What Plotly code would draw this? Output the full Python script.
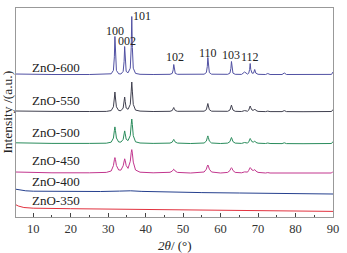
import plotly.graph_objects as go

# 2-theta grid (degrees) shared by the crystalline samples
two_theta = [5, 8, 15, 25, 29.5, 30.8, 31.4, 31.65, 31.8, 31.95, 32.2, 32.8,
             33.4, 34.0, 34.25, 34.4, 34.55, 34.8, 35.3, 35.9, 36.15, 36.3, 36.45, 36.7,
             37.3, 38.5, 42, 46.5, 47.1, 47.35, 47.5, 47.65, 47.9, 48.5, 52, 55.6,
             56.2, 56.45, 56.6, 56.75, 57.0, 57.6, 60, 61.9, 62.5, 62.75, 62.9, 63.05,
             63.3, 63.9, 65.6, 66.4, 67.2, 67.5, 67.75, 67.9, 68.05, 68.4, 68.8, 69.1,
             69.4, 70.0, 72.0, 72.6, 73.2, 76.4, 77.0, 77.6, 82, 88, 89.6, 90]

int_600 = [143, 142.8, 142.5, 142.5, 142.6, 143.2, 146.6, 160.2, 180.5, 160.2, 146.6, 143.2,
           143.0, 145.6, 155.5, 170.5, 155.5, 145.6, 144.2, 148.8, 169.5, 200.5, 169.5, 148.8,
           143.6, 142.7, 142.5, 142.7, 143.6, 147.2, 152.5, 147.2, 143.6, 142.7, 142.5, 142.8,
           144.4, 150.4, 159.5, 150.4, 144.4, 142.8, 142.5, 142.7, 143.9, 148.5, 155.5, 148.5,
           143.9, 142.7, 142.6, 145, 142.9, 143.7, 147.6, 153.5, 147.6, 143.8, 143.9, 147.5,
           143.9, 142.7, 142.5, 143.5, 142.5, 142.5, 144, 142.5, 142.4, 142.4, 142.6, 145]

int_550 = [106, 105.8, 105.6, 105.5, 105.6, 106.4, 110.2, 119, 125, 119, 110.2, 106.5,
           106.3, 109, 115.5, 120, 115.5, 109, 107.7, 112.6, 125.9, 135, 125.9, 112.6,
           106.9, 105.9, 105.5, 105.7, 106.5, 108.3, 109.5, 108.3, 106.5, 105.7, 105.4, 105.8,
           107.3, 111, 113.5, 111, 107.3, 105.8, 105.4, 105.7, 107, 109.9, 111.9, 109.9,
           107, 105.7, 105.5, 106.4, 105.8, 106.8, 109.3, 111, 109.3, 106.9, 106.7, 108,
           106.6, 105.6, 105.4, 105.9, 105.4, 105.4, 106.4, 105.4, 105.3, 105.3, 105.5, 107.5]

int_500 = [74.2, 73.9, 73.6, 73.6, 73.8, 74.8, 78.9, 86.3, 90.1, 86.3, 79, 75,
           74.9, 77.6, 83.2, 86.1, 83.3, 77.8, 76.4, 81.5, 92.5, 98, 92.4, 81.3,
           75.2, 74, 73.6, 73.9, 74.9, 76.7, 77.6, 76.7, 74.9, 73.9, 73.5, 74,
           75.9, 79.3, 81.1, 79.3, 75.9, 74, 73.5, 73.9, 75.4, 78.1, 79.5, 78.1,
           75.4, 73.9, 73.6, 74.5, 73.9, 75.1, 77.4, 78.5, 77.4, 75.2, 75, 76,
           74.6, 73.8, 73.5, 74, 73.5, 73.4, 74.2, 73.4, 73.3, 73.3, 73.5, 75.5]

int_450 = [45, 44.6, 44.2, 44.2, 44.6, 46, 51.3, 57.2, 59.4, 57.4, 51.5, 47,
           46.9, 51.2, 56.3, 58.2, 56.4, 51.5, 48.6, 55.7, 64.4, 67.4, 63.9, 54.9,
           47, 44.8, 44.2, 44.7, 45.9, 47.3, 47.8, 47.3, 45.9, 44.6, 44, 45,
           47.8, 50.9, 52, 50.9, 47.8, 45, 44, 44.6, 46.5, 48.6, 49.3, 48.6,
           46.5, 44.6, 44.2, 45.1, 44.9, 46.6, 48.7, 49.4, 48.8, 46.9, 46.6, 47.4,
           46, 44.6, 44, 44.4, 44, 43.9, 44.6, 43.9, 43.8, 43.8, 44, 45.5]

two_theta_400 = [5, 6.5, 8, 10, 20, 28, 33, 36, 39, 45, 55, 65, 75, 90]
int_400 = [28, 26.8, 26.2, 25.8, 25.4, 25.5, 25.9, 26.2, 25.6, 24.9, 24.4, 24, 23.5, 23]

two_theta_350 = [5, 6, 7.5, 10, 20, 30, 35, 40, 50, 60, 70, 80, 90]
int_350 = [13, 11, 9.5, 8.8, 8.3, 8, 8, 7.5, 7, 6.6, 6.2, 5.9, 5.6]

sample_names = ["ZnO-600", "ZnO-550", "ZnO-500", "ZnO-450", "ZnO-400", "ZnO-350"]
hkl_labels = ["100", "002", "101", "102", "110", "103", "112"]

series = [
    (two_theta, int_600, "#5151a3"),
    (two_theta, int_550, "#40404f"),
    (two_theta, int_500, "#2a8c5c"),
    (two_theta, int_450, "#c2368e"),
    (two_theta_400, int_400, "#25408e"),
    (two_theta_350, int_350, "#e2323f"),
]

fig = go.Figure()
for (xs, ys, col), name in zip(series, sample_names):
    fig.add_trace(go.Scatter(x=xs, y=ys, mode="lines", name=name,
                             line=dict(color=col, width=1), showlegend=False))

serif = "Liberation Serif"
annots = []
label_y = [150, 117, 84.3, 57, 35.3, 16.3]
for name, yy in zip(sample_names, label_y):
    annots.append(dict(x=9.1, y=yy, xref="x", yref="y", text=name, showarrow=False,
                       xanchor="left", yanchor="middle",
                       font=dict(family=serif, size=13, color="#222")))
hkl_xy = [(31.7, 186.5), (34.9, 176.3), (38.9, 201), (47.7, 159.7),
          (56.6, 164.3), (62.8, 162), (67.8, 159.7)]
for lab, (xx, yy) in zip(hkl_labels, hkl_xy):
    annots.append(dict(x=xx, y=yy, xref="x", yref="y", text=lab, showarrow=False,
                       xanchor="center", yanchor="middle",
                       font=dict(family=serif, size=12, color="#222")))
annots.append(dict(x=0.5, y=-0.134, xref="paper", yref="paper", text="<i>2θ</i>/ (°)",
                   showarrow=False, xanchor="center", yanchor="middle",
                   font=dict(family=serif, size=13, color="#222")))
annots.append(dict(x=-0.028, y=0.5, xref="paper", yref="paper", text="Intensity /(a.u.)",
                   showarrow=False, xanchor="center", yanchor="middle", textangle=-90,
                   font=dict(family=serif, size=13.5, color="#222")))

fig.update_layout(
    width=347, height=253,
    margin=dict(l=16, r=14, t=8, b=36),
    paper_bgcolor="white", plot_bgcolor="white",
    annotations=annots,
    xaxis=dict(range=[5.4, 90], tickmode="array", tickvals=[10, 20, 30, 40, 50, 60, 70, 80, 90],
               ticks="inside", ticklen=4, tickwidth=1, tickcolor="#444",
               minor=dict(tickvals=[15, 25, 35, 45, 55, 65, 75, 85], ticks="inside",
                          ticklen=2, tickwidth=1, tickcolor="#444"),
               showline=True, linecolor="#999", linewidth=1, mirror=True,
               showgrid=False, zeroline=False,
               tickfont=dict(family=serif, size=12.5, color="#333")),
    yaxis=dict(range=[0, 209], showticklabels=False, ticks="",
               showline=True, linecolor="#999", linewidth=1, mirror=True,
               showgrid=False, zeroline=False),
)

fig.write_html("out.html", config={"displayModeBar": False},
               post_script="document.body.style.margin='0';document.body.style.overflow='hidden';")
